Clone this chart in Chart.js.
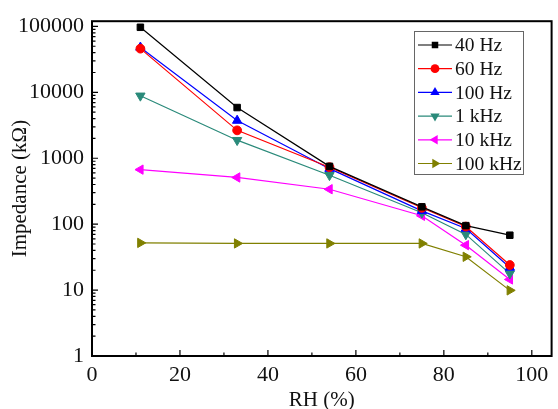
<!DOCTYPE html>
<html>
<head>
<meta charset="utf-8">
<script src="https://cdn.jsdelivr.net/npm/chart.js@4/dist/chart.umd.min.js"></script>
<style>
html,body{margin:0;padding:0;background:#fff;}
canvas{display:block;}
</style>
</head>
<body>
<canvas id="c" width="558" height="409"></canvas>
<script>
// ---- data ----
const rh = [11, 33, 54, 75, 85, 95];
const z40Hz = [97000, 5880, 753, 183, 95, 68];
const z60Hz = [46000, 2650, 732, 177, 92, 24];
const z100Hz = [48000, 3730, 695, 159, 86, 22];
const z1kHz = [8870, 1880, 553, 149, 70, 17.8];
const z10kHz = [672, 511, 339, 134, 48, 14.5];
const z100kHz = [52, 51, 51, 51, 32, 9.9];
const seriesLabels = ['40 Hz', '60 Hz', '100 Hz', '1 kHz', '10 kHz', '100 kHz'];
const xTicks = [0, 20, 40, 60, 80, 100];
const xMinorTicks = [10, 30, 50, 70, 90];
const yTicks = [1, 10, 100, 1000, 10000, 100000];
const xTitle = 'RH (%)';
const yTitle = 'Impedance (kΩ)';

const seriesValues = [z40Hz, z60Hz, z100Hz, z1kHz, z10kHz, z100kHz];
const colors = ['#000000', '#ff0000', '#0000ff', '#2a8a7a', '#ff00ff', '#808000'];
const styles = [
  {s: 'rect', r: 4.6, rot: 0},
  {s: 'circle', r: 4.4, rot: 0},
  {s: 'triangle', r: 5.4, rot: 0},
  {s: 'triangle', r: 5.4, rot: 180},
  {s: 'triangle', r: 5.4, rot: 270},
  {s: 'triangle', r: 5.4, rot: 90}
];
const FONT = '"Liberation Serif", "Times New Roman", serif';

const datasets = seriesValues.map((vals, i) => ({
  label: seriesLabels[i],
  data: rh.map((x, j) => ({x: x, y: vals[j]})),
  borderColor: colors[i],
  backgroundColor: colors[i],
  borderWidth: 1.2,
  pointStyle: styles[i].s,
  pointRadius: styles[i].r,
  pointRotation: styles[i].rot,
  pointBorderWidth: 1,
  showLine: true,
  tension: 0
}));

function drawMarker(ctx, st, color, x, y) {
  ctx.save();
  ctx.translate(x, y);
  ctx.rotate(st.rot * Math.PI / 180);
  ctx.fillStyle = color;
  ctx.beginPath();
  const r = st.r;
  if (st.s === 'rect') {
    const s = r * Math.SQRT1_2;
    ctx.rect(-s, -s, 2 * s, 2 * s);
  } else if (st.s === 'circle') {
    ctx.arc(0, 0, r, 0, Math.PI * 2);
  } else {
    const e = 3 * r / Math.sqrt(3);
    const h = e * Math.sqrt(3) / 2;
    ctx.moveTo(0, -2 * h / 3);
    ctx.lineTo(e / 2, h / 3);
    ctx.lineTo(-e / 2, h / 3);
    ctx.closePath();
  }
  ctx.fill();
  ctx.restore();
}

const framePlugin = {
  id: 'frame',
  afterDraw(chart) {
    const ctx = chart.ctx;
    const a = chart.chartArea;
    const xs = chart.scales.x, ys = chart.scales.y;
    ctx.save();
    ctx.strokeStyle = '#000';
    ctx.lineWidth = 2;
    ctx.strokeRect(a.left, a.top, a.right - a.left, a.bottom - a.top);
    ctx.lineWidth = 1.2;
    ctx.beginPath();
    xTicks.forEach(v => { const p = xs.getPixelForValue(v); ctx.moveTo(p, a.bottom); ctx.lineTo(p, a.bottom - 6); });
    xMinorTicks.forEach(v => { const p = xs.getPixelForValue(v); ctx.moveTo(p, a.bottom); ctx.lineTo(p, a.bottom - 3.5); });
    for (let d = 0; d < yTicks.length; d++) {
      const base = yTicks[d];
      const p = ys.getPixelForValue(base);
      ctx.moveTo(a.left, p); ctx.lineTo(a.left + 6, p);
      for (let m = 2; m <= 9; m++) {
        const v = base * m;
        if (v > ys.max) break;
        const q = ys.getPixelForValue(v);
        ctx.moveTo(a.left, q); ctx.lineTo(a.left + 3.5, q);
      }
    }
    ctx.stroke();

    // legend
    const L = 414, T = 31, R = 523, B = 174;
    ctx.fillStyle = '#fff';
    ctx.fillRect(L, T, R - L, B - T);
    ctx.strokeStyle = '#666';
    ctx.lineWidth = 1;
    ctx.strokeRect(L + 0.5, T + 0.5, R - L, B - T);
    ctx.font = '19.5px ' + FONT;
    ctx.textBaseline = 'middle';
    ctx.textAlign = 'left';
    chart.data.datasets.forEach((ds, i) => {
      const y = 45 + i * 23.7;
      ctx.strokeStyle = colors[i];
      ctx.lineWidth = 1.2;
      ctx.beginPath(); ctx.moveTo(418, y); ctx.lineTo(452, y); ctx.stroke();
      drawMarker(ctx, styles[i], colors[i], 435, y);
      ctx.fillStyle = '#111';
      ctx.fillText(ds.label, 455, y + 1);
    });
    ctx.restore();
  }
};

new Chart(document.getElementById('c'), {
  type: 'scatter',
  data: {datasets: datasets},
  plugins: [framePlugin],
  options: {
    responsive: false,
    animation: false,
    devicePixelRatio: 1,
    layout: {padding: {top: 14, right: 6, left: 0, bottom: 0}},
    plugins: {legend: {display: false}, tooltip: {enabled: false}},
    scales: {
      x: {
        type: 'linear',
        min: 0, max: 104.5,
        afterBuildTicks(s) { s.ticks = xTicks.map(v => ({value: v})); },
        afterFit(s) { s.height = 53; },
        grid: {display: false, drawTicks: false},
        border: {display: false},
        ticks: {color: '#111', font: {family: FONT, size: 22}, padding: 6, maxRotation: 0},
        title: {display: true, text: xTitle, color: '#111', font: {family: FONT, size: 21, lineHeight: 0.8}, padding: {top: 0, bottom: 0}}
      },
      y: {
        type: 'logarithmic',
        min: 1, max: 120000,
        afterBuildTicks(s) { s.ticks = yTicks.map(v => ({value: v})); },
        afterFit(s) { s.width = 92; },
        grid: {display: false, drawTicks: false},
        border: {display: false},
        ticks: {color: '#111', font: {family: FONT, size: 22}, padding: 8, callback: v => String(v)},
        title: {display: true, text: yTitle, color: '#111', font: {family: FONT, size: 21}, padding: {top: 8, bottom: 0}}
      }
    }
  }
});
</script>
</body>
</html>
